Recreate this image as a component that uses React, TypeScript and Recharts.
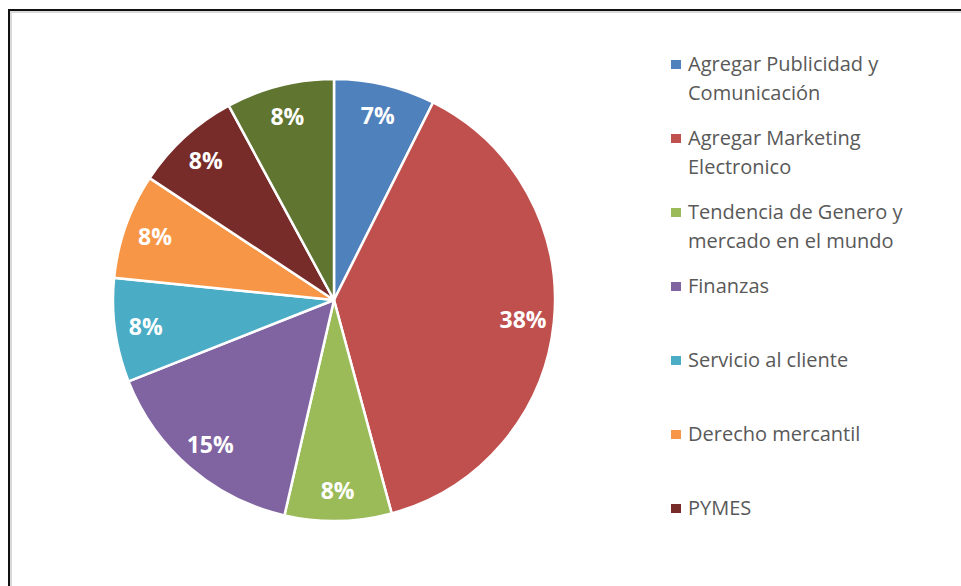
import React from 'react'
import { Cell, Legend, Pie, PieChart } from 'recharts'

const categories = [
  'Agregar Publicidad y Comunicación',
  'Agregar Marketing Electronico',
  'Tendencia de Genero y mercado en el mundo',
  'Finanzas',
  'Servicio al cliente',
  'Derecho mercantil',
  'PYMES',
  'Otros',
]
const shares = [7.4, 38.4, 7.8, 15.4, 7.6, 7.7, 7.8, 7.9]
const colors = ['#4F81BD', '#C0504D', '#9BBB59', '#8064A2', '#4BACC6', '#F79646', '#772C2A', '#5F7530']
// the legend box only has room for this many entries, like the original
const legendRows = 7

const data = categories.map((name, i) => ({ name, value: shares[i] }))

const RADIAN = Math.PI / 180

function renderLabel(props: any) {
  const { cx, cy, midAngle, percent } = props
  const r = 190
  const x = cx + r * Math.cos(-midAngle * RADIAN)
  const y = cy + r * Math.sin(-midAngle * RADIAN)
  return (
    <text
      x={x}
      y={y}
      fill="#fff"
      textAnchor="middle"
      dominantBaseline="central"
      fontFamily="'Open Sans', sans-serif"
      fontWeight={700}
      fontSize={23}
    >
      {`${Math.round(percent * 100)}%`}
    </text>
  )
}

function renderLegend() {
  return (
    <div style={{ fontFamily: "'Open Sans', sans-serif", fontSize: 20, color: '#595959' }}>
      {data.slice(0, legendRows).map((d, i) => (
        <div key={d.name} style={{ position: 'relative', height: 74 }}>
          <span
            style={{
              position: 'absolute',
              left: 0,
              top: 11,
              width: 10,
              height: 9,
              background: colors[i],
            }}
          />
          <div style={{ marginLeft: 17, width: 235, lineHeight: '29px' }}>{d.name}</div>
        </div>
      ))}
    </div>
  )
}

export default function App() {
  return (
    <div style={{ position: 'fixed', left: 0, top: 0, width: 961, height: 586, overflow: 'hidden', background: '#fff' }}>
      <div
        style={{
          position: 'absolute',
          left: 8,
          top: 9,
          width: 1100,
          height: 800,
          borderTop: '2px solid #111',
          borderLeft: '2px solid #111',
          boxShadow: 'inset 2px 2px 0 #d9d9d9',
        }}
      />
      <div style={{ position: 'absolute', left: 0, top: 0 }}>
        <PieChart width={961} height={586} margin={{ top: 0, right: 0, bottom: 0, left: 0 }}>
          <Pie
            data={data}
            dataKey="value"
            nameKey="name"
            cx={334}
            cy={300}
            outerRadius={221}
            startAngle={90}
            endAngle={-270}
            stroke="#fff"
            strokeWidth={2.5}
            label={renderLabel}
            labelLine={false}
            isAnimationActive={false}
          >
            {data.map((d, i) => (
              <Cell key={d.name} fill={colors[i]} />
            ))}
          </Pie>
          <Legend
            content={renderLegend}
            wrapperStyle={{ position: 'absolute', left: 671, top: 49, width: 290 }}
          />
        </PieChart>
      </div>
    </div>
  )
}
